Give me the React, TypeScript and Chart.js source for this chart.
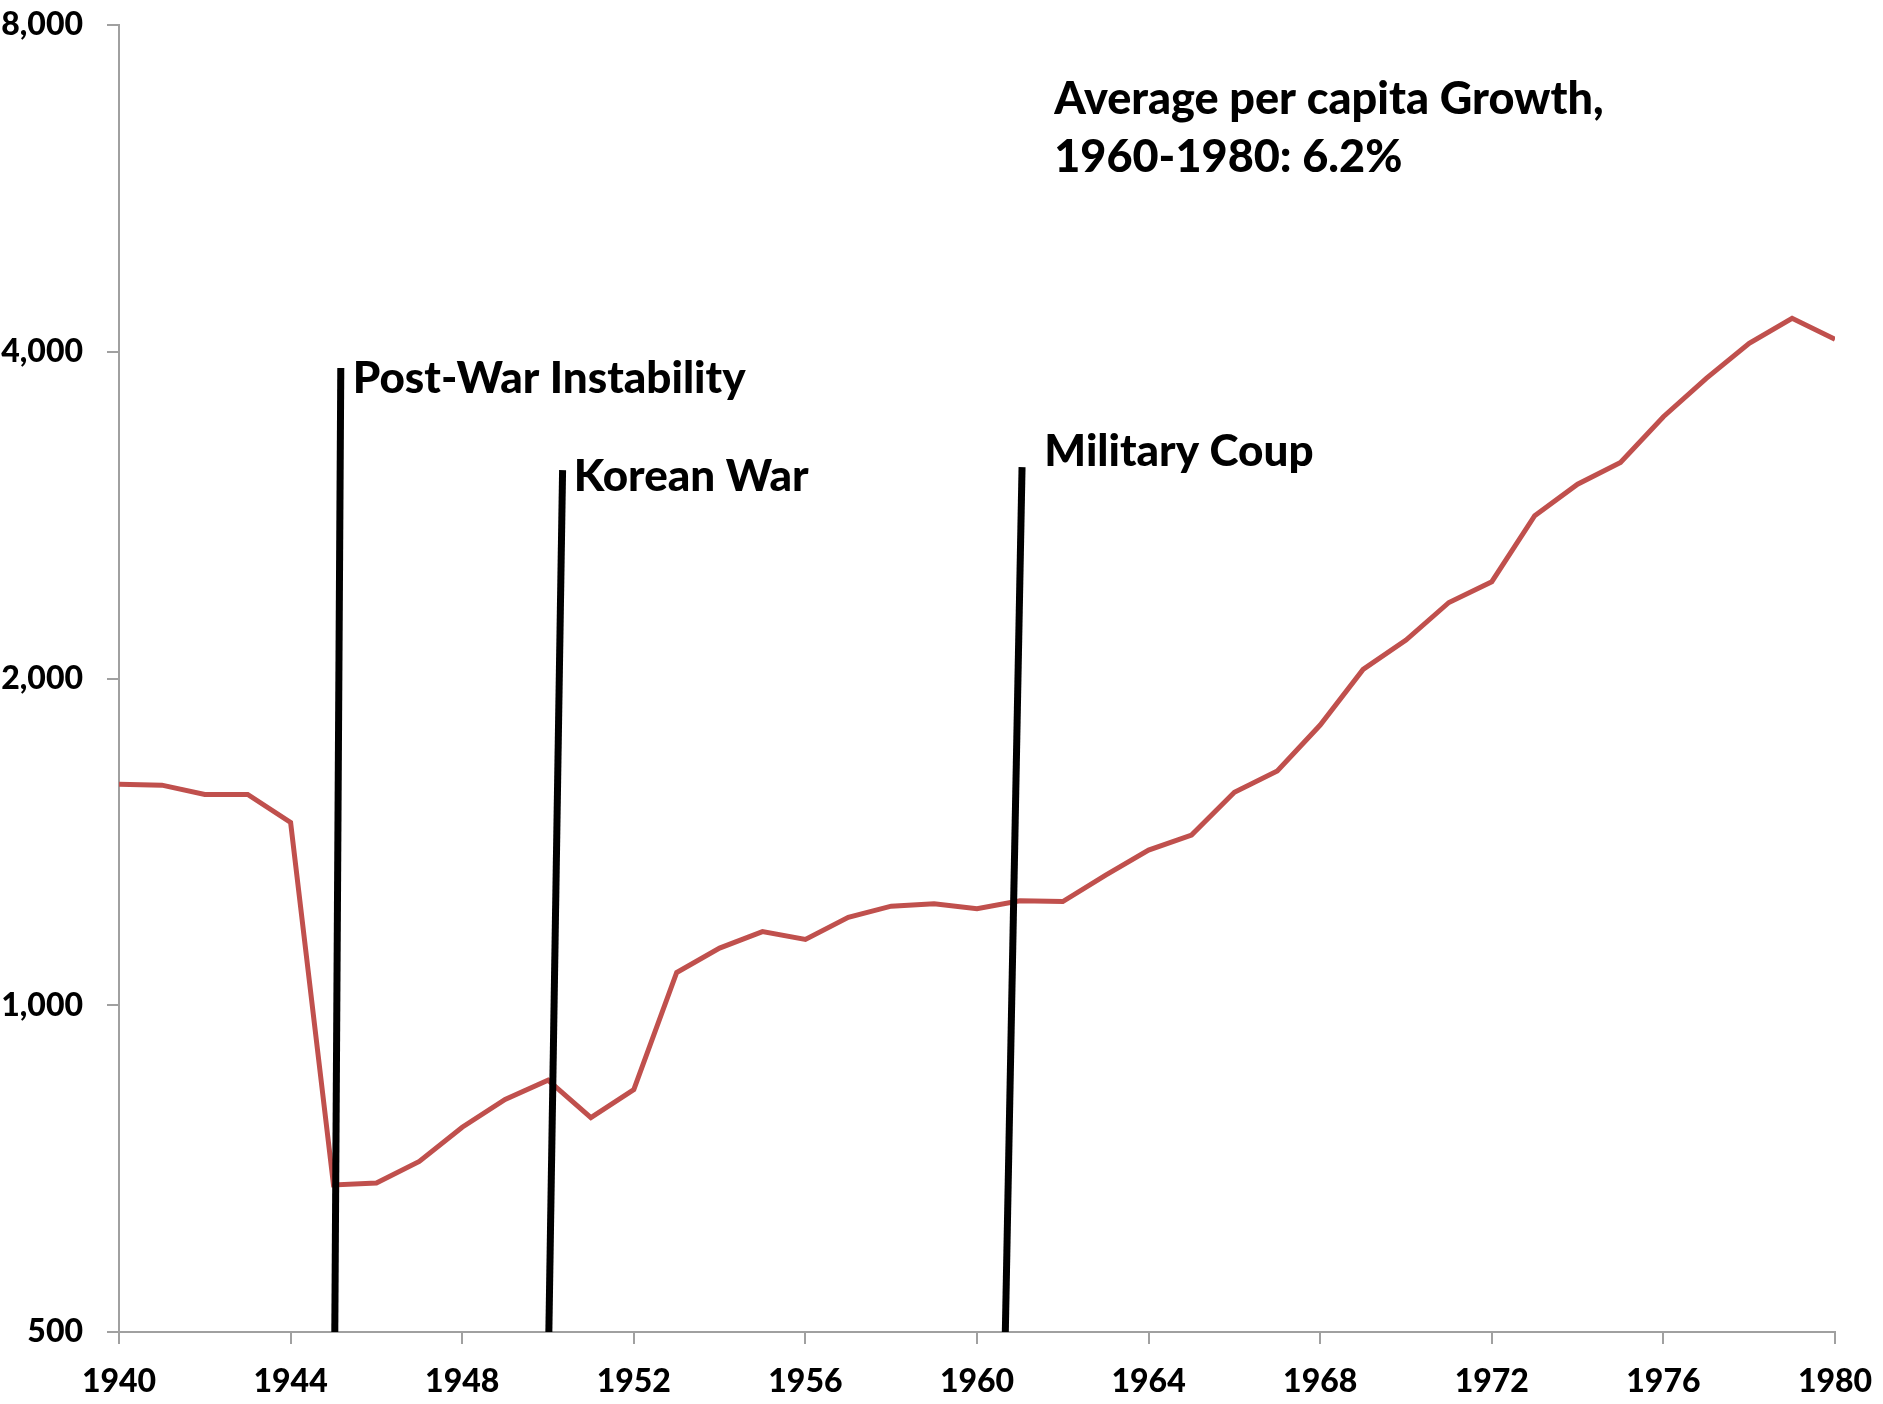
import React, { useEffect, useRef } from 'react';
import { Chart, registerables } from 'chart.js';

Chart.register(...registerables);

// ---- data ----
const years = [
  1940, 1941, 1942, 1943, 1944, 1945, 1946, 1947, 1948, 1949,
  1950, 1951, 1952, 1953, 1954, 1955, 1956, 1957, 1958, 1959,
  1960, 1961, 1962, 1963, 1964, 1965, 1966, 1967, 1968, 1969,
  1970, 1971, 1972, 1973, 1974, 1975, 1976, 1977, 1978, 1979, 1980,
];
const gdpPerCapita = [
  1598, 1595, 1564, 1564, 1474, 683, 686, 718, 772, 819,
  853, 788, 836, 1072, 1129, 1169, 1150, 1205, 1234, 1240,
  1227, 1248, 1246, 1318, 1390, 1435, 1571, 1644, 1812, 2039,
  2170, 2350, 2456, 2825, 3020, 3162, 3485, 3781, 4072, 4294, 4107,
];
const yTickValues = [500, 1000, 2000, 4000, 8000];
const xMin = 1940;
const xMax = 1980;
const xTickStep = 4;

// event markers (slanted black lines): base year at 500, top year/value
const eventNames = ['Post-War Instability', 'Korean War', 'Military Coup'];
const eventBaseYears = [1945.03, 1950.02, 1960.66];
const eventTopYears = [1945.17, 1950.34, 1961.05];
const eventTopValues = [3864, 3112, 3132];
const eventLabelYears = [1945.45, 1950.6, 1961.57];
const eventLabelValues = [3665, 2975, 3141];

const noteLines = ['Average per capita Growth,', '1960-1980: 6.2%'];
const noteYear = 1961.8;
const noteValues = [6624, 5857];

const FONT = 'Lato, "Open Sans", sans-serif';
const AXIS_COLOR = '#A0A0A0';

export default function App() {
  const canvasRef = useRef<HTMLCanvasElement | null>(null);

  useEffect(() => {
    document.body.style.margin = '0';
    document.body.style.overflow = 'hidden';
    const canvas = canvasRef.current;
    if (!canvas) return;

    const textPlugin = {
      id: 'textNotes',
      afterDatasetsDraw(chart: any) {
        const { ctx } = chart;
        const xs = chart.scales.x;
        const ys = chart.scales.y;
        ctx.save();
        ctx.fillStyle = '#000';
        ctx.textAlign = 'left';
        ctx.textBaseline = 'alphabetic';
        ctx.font = `900 44px ${FONT}`;
        eventNames.forEach((name, i) => {
          ctx.fillText(name, xs.getPixelForValue(eventLabelYears[i]), ys.getPixelForValue(eventLabelValues[i]));
        });
        ctx.font = `900 45px ${FONT}`;
        noteLines.forEach((line, i) => {
          ctx.fillText(line, xs.getPixelForValue(noteYear), ys.getPixelForValue(noteValues[i]));
        });
        ctx.restore();
      },
    };

    const eventDatasets = eventNames.map((name, i) => ({
      label: name,
      data: [
        { x: eventBaseYears[i], y: yTickValues[0] },
        { x: eventTopYears[i], y: eventTopValues[i] },
      ],
      borderColor: '#000000',
      backgroundColor: '#000000',
      borderWidth: 7,
      pointRadius: 0,
      tension: 0,
      order: 0,
    }));

    const chart = new Chart(canvas, {
      type: 'line',
      data: {
        datasets: [
          ...eventDatasets,
          {
            label: 'GDP per capita',
            data: years.map((yr, i) => ({ x: yr, y: gdpPerCapita[i] })),
            borderColor: '#C0504D',
            backgroundColor: '#C0504D',
            borderWidth: 5,
            pointRadius: 0,
            tension: 0,
            order: 1,
          },
        ],
      },
      options: {
        animation: false,
        responsive: true,
        maintainAspectRatio: false,
        layout: { padding: { top: 25, right: 48, left: 0, bottom: 0 } },
        plugins: {
          legend: { display: false },
          tooltip: { enabled: false },
          title: { display: false },
        },
        scales: {
          x: {
            type: 'linear',
            min: xMin,
            max: xMax,
            ticks: {
              stepSize: xTickStep,
              autoSkip: false,
              maxRotation: 0,
              padding: 18,
              color: '#000',
              font: { family: FONT, size: 32, weight: '900' },
              callback: (v: any) => String(v),
            },
            grid: {
              display: true,
              drawOnChartArea: false,
              drawTicks: true,
              tickLength: 12,
              color: AXIS_COLOR,
              lineWidth: 2,
            },
            border: { display: true, color: AXIS_COLOR, width: 2 },
            afterFit: (scale: any) => {
              scale.height = 72;
              scale.paddingLeft = 0;
              scale.paddingRight = 0;
            },
          },
          y: {
            type: 'logarithmic',
            min: yTickValues[0],
            max: yTickValues[yTickValues.length - 1],
            afterBuildTicks: (scale: any) => {
              scale.ticks = yTickValues.map((v) => ({ value: v }));
            },
            ticks: {
              autoSkip: false,
              padding: 24,
              color: '#000',
              font: { family: FONT, size: 32, weight: '900' },
              callback: (v: any) => Number(v).toLocaleString('en-US'),
            },
            grid: {
              display: true,
              drawOnChartArea: false,
              drawTicks: true,
              tickLength: 12,
              color: AXIS_COLOR,
              lineWidth: 2,
            },
            border: { display: true, color: AXIS_COLOR, width: 2 },
            afterFit: (scale: any) => {
              scale.width = 119;
              scale.paddingTop = 0;
              scale.paddingBottom = 0;
            },
          },
        },
      },
      plugins: [textPlugin],
    });

    return () => {
      chart.destroy();
    };
  }, []);

  return (
    <div style={{ width: 1883, height: 1404, position: 'relative', background: '#fff' }}>
      <canvas ref={canvasRef} />
    </div>
  );
}
